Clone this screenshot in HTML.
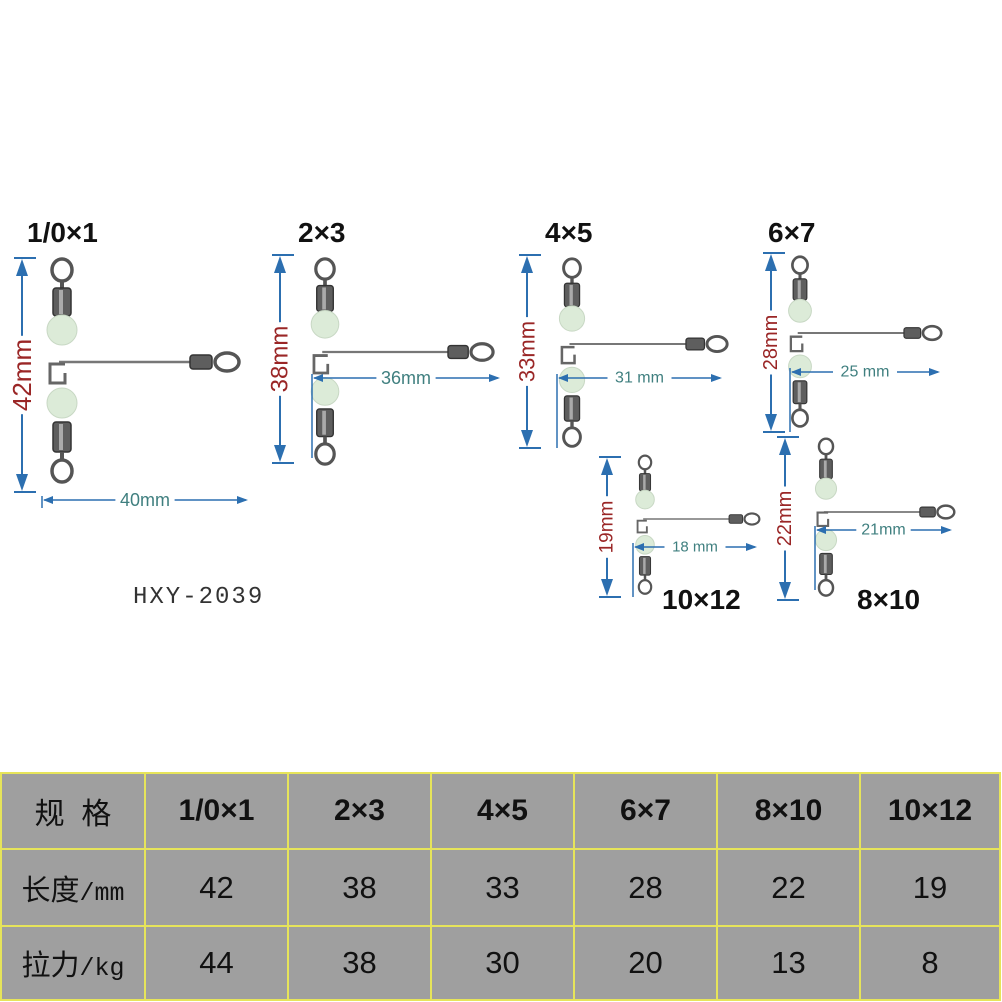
<!DOCTYPE html>
<html><head><meta charset="utf-8"><style>
html,body{margin:0;padding:0;background:#fff;}
body{width:1002px;height:1002px;position:relative;overflow:hidden;font-family:"Liberation Sans","Noto Sans CJK SC",sans-serif;}
svg{position:absolute;left:0;top:0;}
table{position:absolute;left:0;top:772px;width:1001px;height:229px;border-collapse:collapse;background:#9f9f9f;table-layout:fixed;}
td{border:2px solid #e6e45a;text-align:center;font-size:31px;color:#111;padding:0;overflow:hidden;white-space:nowrap;}
tr:first-child td{font-weight:bold;font-size:30px;}
td.h{font-size:29px;font-weight:normal !important;}
td.h span{font-family:"Liberation Mono",monospace;font-size:25px;}
</style></head><body>
<svg id="s" width="1002" height="772" viewBox="0 0 1002 772"></svg>
<table>
<colgroup><col style="width:144px"><col style="width:143px"><col style="width:143px"><col style="width:143px"><col style="width:143px"><col style="width:143px"><col></colgroup>
<tr style="height:76px"><td class="h">规&nbsp;&nbsp;格</td><td>1/0×1</td><td>2×3</td><td>4×5</td><td>6×7</td><td>8×10</td><td>10×12</td></tr>
<tr style="height:77px"><td class="h">长度<span>/mm</span></td><td>42</td><td>38</td><td>33</td><td>28</td><td>22</td><td>19</td></tr>
<tr><td class="h">拉力<span>/kg</span></td><td>44</td><td>38</td><td>30</td><td>20</td><td>13</td><td>8</td></tr>
</table>
<script>
var o='';
function sw(cx,top,bot,wy,end){
 var s=(bot-top)/226;
 function y(d){return top+d*s;}
 var g='<g stroke="#555" fill="none">';
 g+='<ellipse cx="'+cx+'" cy="'+y(12)+'" rx="'+10*s+'" ry="'+11*s+'" stroke-width="'+3.5*s+'"/>';
 g+='<line x1="'+cx+'" y1="'+y(23)+'" x2="'+cx+'" y2="'+y(30)+'" stroke-width="'+4*s+'"/>';
 g+='<rect x="'+(cx-9*s)+'" y="'+y(30)+'" width="'+18*s+'" height="'+28*s+'" rx="'+3*s+'" fill="#5e5e5e" stroke="#333" stroke-width="'+1.5*s+'"/>';
 g+='<rect x="'+(cx-3*s)+'" y="'+y(32)+'" width="'+4*s+'" height="'+24*s+'" fill="#aaa" stroke="none"/>';
 g+='<circle cx="'+cx+'" cy="'+y(72)+'" r="'+15*s+'" fill="#dcebd8" stroke="#c8d8c4" stroke-width="1"/>';
 g+='<line x1="'+(cx-3*s)+'" y1="'+wy+'" x2="'+(end-45*s)+'" y2="'+wy+'" stroke="#777" stroke-width="'+2.5*s+'"/>';
 g+='<rect x="'+(end-50*s)+'" y="'+(wy-7*s)+'" width="'+22*s+'" height="'+14*s+'" rx="'+3*s+'" fill="#5e5e5e" stroke="#333" stroke-width="'+1.5*s+'"/>';
 g+='<ellipse cx="'+(end-13*s)+'" cy="'+wy+'" rx="'+12*s+'" ry="'+9*s+'" stroke-width="'+3.5*s+'"/>';
 g+='<path d="M'+(cx+3*s)+' '+y(106)+' L'+(cx-12*s)+' '+y(106)+' L'+(cx-12*s)+' '+y(125)+' L'+(cx+3*s)+' '+y(125)+' L'+(cx+3*s)+' '+y(115)+'" stroke="#666" stroke-width="'+3*s+'"/>';
 g+='<circle cx="'+cx+'" cy="'+y(145)+'" r="'+15*s+'" fill="#dcebd8" stroke="#c8d8c4" stroke-width="1"/>';
 g+='<rect x="'+(cx-9*s)+'" y="'+y(164)+'" width="'+18*s+'" height="'+30*s+'" rx="'+3*s+'" fill="#5e5e5e" stroke="#333" stroke-width="'+1.5*s+'"/>';
 g+='<rect x="'+(cx-3*s)+'" y="'+y(166)+'" width="'+4*s+'" height="'+26*s+'" fill="#aaa" stroke="none"/>';
 g+='<line x1="'+cx+'" y1="'+y(194)+'" x2="'+cx+'" y2="'+y(202)+'" stroke-width="'+4*s+'"/>';
 g+='<ellipse cx="'+cx+'" cy="'+y(213)+'" rx="'+10*s+'" ry="'+11*s+'" stroke-width="'+3.5*s+'"/>';
 return g+'</g>';
}
var B='#2c6fb0';
function vArr(x,t,b,lab,fs){
 var m=(t+b)/2,h=lab.length*fs*0.3+8;
 var g='<g stroke="'+B+'" fill="'+B+'" stroke-width="2">';
 g+='<line x1="'+(x-8)+'" y1="'+t+'" x2="'+(x+14)+'" y2="'+t+'"/><line x1="'+(x-8)+'" y1="'+b+'" x2="'+(x+14)+'" y2="'+b+'"/>';
 g+='<line x1="'+x+'" y1="'+(t+14)+'" x2="'+x+'" y2="'+(m-h)+'"/><line x1="'+x+'" y1="'+(m+h)+'" x2="'+x+'" y2="'+(b-14)+'"/>';
 g+='<polygon stroke="none" points="'+x+','+(t+1)+' '+(x-6)+','+(t+18)+' '+(x+6)+','+(t+18)+'"/>';
 g+='<polygon stroke="none" points="'+x+','+(b-1)+' '+(x-6)+','+(b-18)+' '+(x+6)+','+(b-18)+'"/></g>';
 g+='<text x="'+x+'" y="'+m+'" transform="rotate(-90 '+x+' '+m+')" text-anchor="middle" dominant-baseline="central" font-size="'+fs+'" fill="#9a2626">'+lab+'</text>';
 return g;
}
function hArr(l,r,y,lab,fs,tick){
 var m=(l+r)/2,w=lab.length*fs*0.3+8;
 var g='<g stroke="'+B+'" fill="'+B+'" stroke-width="1.5">';
 g+='<line x1="'+l+'" y1="'+(y-4)+'" x2="'+l+'" y2="'+(y+(tick||6))+'"/>';
 g+='<line x1="'+(l+2)+'" y1="'+y+'" x2="'+(m-w)+'" y2="'+y+'"/><line x1="'+(m+w)+'" y1="'+y+'" x2="'+(r-2)+'" y2="'+y+'"/>';
 g+='<polygon stroke="none" points="'+(l+1)+','+y+' '+(l+11)+','+(y-4)+' '+(l+11)+','+(y+4)+'"/>';
 g+='<polygon stroke="none" points="'+r+','+y+' '+(r-11)+','+(y-4)+' '+(r-11)+','+(y+4)+'"/></g>';
 g+='<text x="'+m+'" y="'+y+'" text-anchor="middle" dominant-baseline="central" font-size="'+fs+'" fill="#3f7f7f">'+lab+'</text>';
 return g;
}
o+=sw(62,258,484,362,240);
o+=sw(325,258,466,352,494);
o+=sw(572,258,448,344,728);
o+=sw(800,256,428,333,942);
o+=sw(645,455,595,519,760);
o+=sw(826,438,597,512,955);
o+=vArr(22,258,492,'42mm',26);
o+=hArr(42,248,500,'40mm',18,8);
o+=vArr(280,255,463,'38mm',24);
o+=hArr(312,500,378,'36mm',18,80);
o+=vArr(527,255,448,'33mm',22);
o+=hArr(557,722,378,'31 mm',16,70);
o+=vArr(771,253,432,'28mm',20);
o+=hArr(790,940,372,'25 mm',16,60);
o+=vArr(785,437,600,'22mm',20);
o+=hArr(815,952,530,'21mm',16,60);
o+=vArr(607,457,597,'19mm',19);
o+=hArr(633,757,547,'18 mm',15,50);
o+='<g font-weight="bold" font-size="28" fill="#111">';
o+='<text x="27" y="242">1/0×1</text><text x="298" y="242">2×3</text><text x="545" y="242">4×5</text><text x="768" y="242">6×7</text>';
o+='<text x="662" y="609">10×12</text><text x="857" y="609">8×10</text></g>';
o+='<text x="133" y="603" font-family="Liberation Mono,monospace" font-size="24" letter-spacing="2" fill="#333">HXY-2039</text>';
document.getElementById('s').innerHTML=o;
</script>
</body></html>
